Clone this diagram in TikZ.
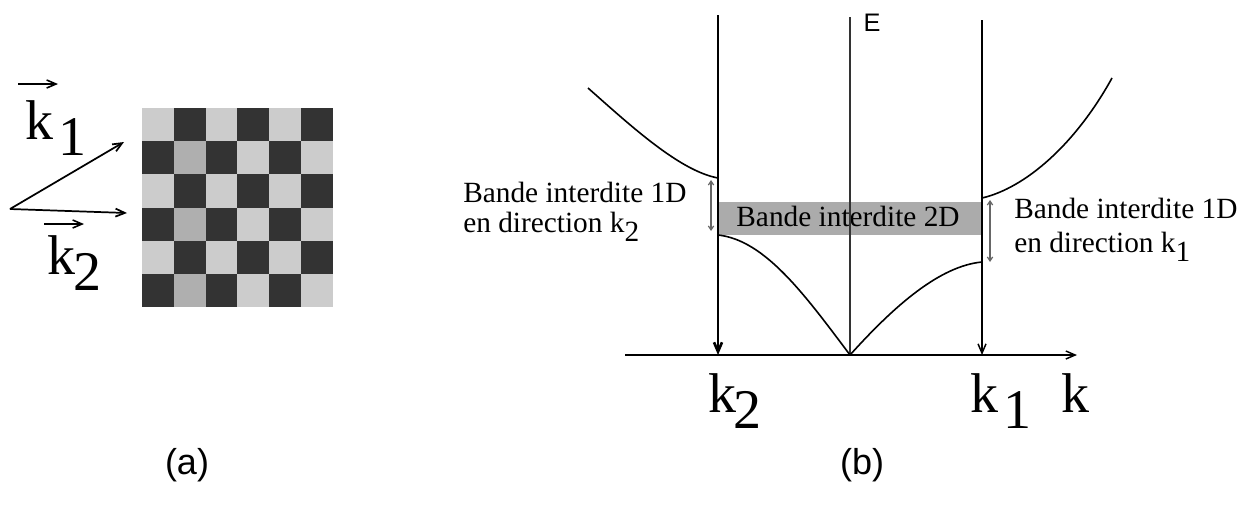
\documentclass[tikz,border=0pt]{standalone}
\usepackage{fontspec}
\setmainfont{Liberation Serif}
\newfontfamily\sansf{Liberation Sans}
\usetikzlibrary{arrows.meta}
\definecolor{darkc}{HTML}{333333}
\definecolor{lightc}{HTML}{CCCCCC}
\definecolor{midc}{HTML}{AFAFAF}
\definecolor{bandc}{HTML}{ABABAB}
\begin{document}
\begin{tikzpicture}[x=0.75pt,y=-0.75pt,
  tip/.style={-{Straight Barb[length=7pt,width=6pt]}},
  dtip/.style={{Straight Barb[length=3pt,width=4pt]}-{Straight Barb[length=3pt,width=4pt]}},
  bigk/.style={font=\fontsize{42}{42}\selectfont, inner sep=0pt, anchor=base west},
  lab/.style={font=\fontsize{22}{25}\selectfont, inner sep=0pt, anchor=base west},
  captext/.style={font=\sansf\fontsize{27}{27}\selectfont, inner sep=0pt}]
\useasboundingbox (0,0) rectangle (1255,511);
% ---- checkerboard
\foreach \i in {0,...,5}{
  \foreach \j in {0,...,5}{
    \pgfmathtruncatemacro{\s}{mod(\i+\j,2)}
    \pgfmathtruncatemacro{\m}{(\i==1)&&(mod(\j,2)==1)}
    \ifnum\s=1 \def\cc{darkc}\else\ifnum\m=1 \def\cc{midc}\else\def\cc{lightc}\fi\fi
    \fill[\cc] (142+\i*31.83,108+\j*33.17) rectangle ++(31.83,33.17);
  }}
% ---- wave vectors
\coordinate (o) at (10,209);
\coordinate (t1) at (124,142);
\coordinate (t2) at (127,213);
\draw[tip, line width=1.3pt] (o) -- (t1);
\draw[tip, line width=1.3pt] (o) -- (t2);
\node[bigk] (ka) at (25,139) {k};
\node[bigk] (ka1) at (58,155) {1};
\coordinate (va1) at (18,84); \coordinate (va2) at (58,84);
\draw[tip, line width=1.2pt] (va1) -- (va2);
\node[bigk] (kb) at (47,274) {k};
\node[bigk] (kb2) at (73,290) {2};
\coordinate (vb1) at (44,224); \coordinate (vb2) at (84,224);
\draw[tip, line width=1.2pt] (vb1) -- (vb2);
\node[captext] (capa) at (187,465) {(a)};
% ---- band diagram
\coordinate (ax0) at (625,355);
\coordinate (ax1) at (1077,355);
\coordinate (c2t) at (718,15);
\coordinate (c2b) at (718,355);
\coordinate (ct) at (850,17);
\coordinate (cb) at (850,355);
\coordinate (c1t) at (982,20);
\coordinate (c1b) at (982,355);
\fill[bandc] (718,202) rectangle (982,235);
\node[lab, anchor=base] (band2) at (848,226) {Bande interdite 2D};
\draw[tip, line width=1.1pt] (ax0) -- (ax1);
\draw[tip, line width=2pt] (c2t) -- (c2b);
\draw[line width=1.4pt, black!80] (ct) -- (cb);
\draw[tip, line width=1.1pt] (c1t) -- (c1b);
\node[font=\sansf\fontsize{19}{19}\selectfont, inner sep=0pt] (E) at (872,23) {E};
% curves
\draw[line width=1.2pt] (588,88) .. controls (632,127) and (680,171) .. (718,178);
\draw[line width=1.2pt] (982,198) .. controls (1025,188) and (1075,145) .. (1112,78);
\draw[line width=1.2pt] (718,235) .. controls (765,240) and (805,295) .. (850,355);
\draw[line width=1.2pt] (850,355) .. controls (895,305) and (940,266) .. (982,262);
% small double arrows
\coordinate (dl1) at (711,180); \coordinate (dl2) at (711,231);
\coordinate (dr1) at (990,200); \coordinate (dr2) at (990,262);
\draw[dtip, line width=0.9pt, black!60] (dl1) -- (dl2);
\draw[dtip, line width=0.9pt, black!60] (dr1) -- (dr2);
% labels
\node[lab] (l2a) at (463,202) {Bande interdite 1D};
\node[lab] (l2b) at (463,232) {en direction k\raisebox{-7pt}{2}};
\node[lab] (l1a) at (1014,218) {Bande interdite 1D};
\node[lab] (l1b) at (1014,252) {en direction k\raisebox{-7pt}{1}};
\node[bigk] (k2) at (708,412) {k};
\node[bigk] (k2s) at (733,428) {2};
\node[bigk] (k1) at (970,412) {k};
\node[bigk] (k1s) at (1003,428) {1};
\node[bigk] (k) at (1061,412) {k};
\node[captext] (capb) at (862,465) {(b)};
\end{tikzpicture}
\end{document}
